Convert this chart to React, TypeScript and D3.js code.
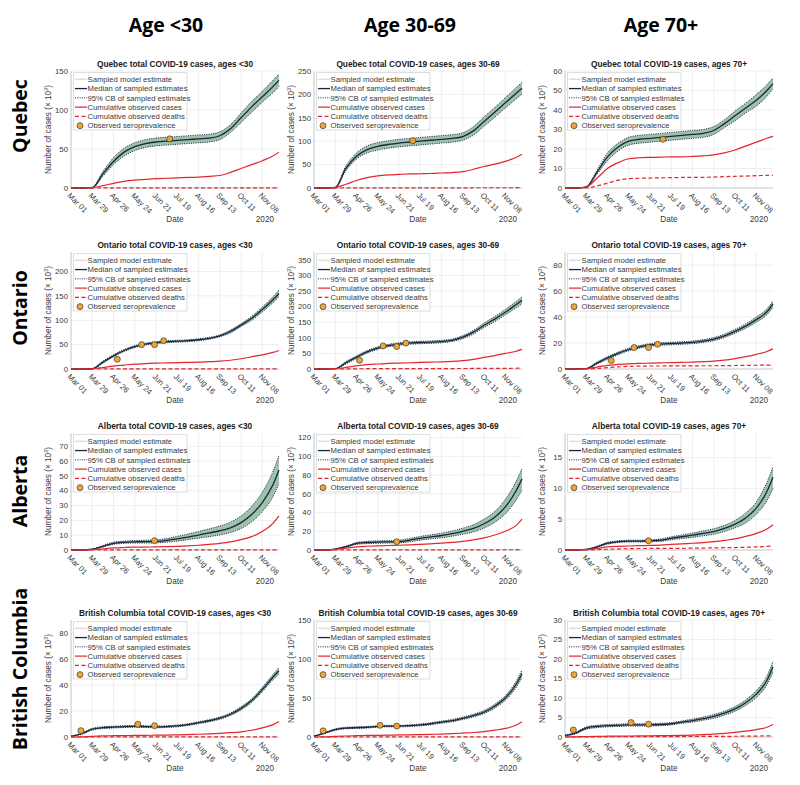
import React from 'react';
import * as d3 from 'd3';

// ---------- data ----------
const DAYS = [0, 14, 28, 42, 56, 70, 84, 98, 112, 126, 140, 154, 168, 182, 196, 210, 224, 238, 252, 266, 274];
const X_TICK_DAYS = [0, 28, 56, 84, 112, 140, 168, 196, 224, 252];
const X_TICK_LABELS = ['Mar 01', 'Mar 29', 'Apr 26', 'May 24', 'Jun 21', 'Jul 19', 'Aug 16', 'Sep 13', 'Oct 11', 'Nov 08'];
const PROVINCES = ['Quebec', 'Ontario', 'Alberta', 'British Columbia'];
const AGE_GROUPS = ['<30', '30-69', '70+'];
const AGE_HEADERS = ['Age <30', 'Age 30-69', 'Age 70+'];
const Y_MAX = [[150, 250, 60], [240, 375, 90], [79, 125, 19], [90, 150, 30]];
const Y_TICK_MAX = [[150, 250, 60], [200, 350, 80], [70, 120, 15], [80, 150, 30]];
const Y_TICK_STEP = [[50, 50, 10], [50, 50, 20], [10, 20, 5], [20, 50, 5]];
const LEGEND_LABELS = ['Sampled model estimate', 'Median of sampled estimates', '95% CB of sampled estimates', 'Cumulative observed cases', 'Cumulative observed deaths', 'Observed seroprevalence'];

// Quebec <30
const QC1_MED = [0, 0, 0.5, 18, 34, 46, 53, 57, 59, 60, 61, 62, 63, 64, 67, 76, 90, 104, 117, 130, 138];
const QC1_HI = [0, 0, 1, 21, 39, 51, 58, 62, 64, 65, 66, 67, 68, 69, 72, 81, 96, 111, 124, 138, 146];
const QC1_LO = [0, 0, 0, 15, 30, 41, 48, 52, 54, 55, 56, 57, 58, 59, 62, 71, 84, 97, 110, 122, 130];
const QC1_CASES = [0, 0, 0.5, 3, 6, 8.5, 10, 11, 12, 12.5, 13, 13.5, 14, 15, 16, 20, 25, 30, 35, 41, 46];
const QC1_DEATHS = [0, 0, 0, 0.05, 0.1, 0.1, 0.1, 0.1, 0.1, 0.1, 0.1, 0.1, 0.1, 0.1, 0.1, 0.1, 0.1, 0.1, 0.1, 0.1, 0.1];
const QC1_SERO = [[130, 63]];
// Quebec 30-69
const QC2_MED = [0, 0, 1, 42, 68, 82, 89, 93, 96, 98, 100, 102, 104, 106, 110, 122, 142, 162, 182, 202, 213];
const QC2_HI = [0, 0, 2, 47, 75, 90, 97, 101, 104, 106, 108, 110, 112, 114, 118, 131, 152, 172, 193, 214, 226];
const QC2_LO = [0, 0, 0, 37, 62, 75, 81, 85, 88, 90, 92, 94, 96, 98, 102, 113, 132, 151, 171, 190, 201];
const QC2_CASES = [0, 0, 1, 8, 16, 22, 26, 28, 29, 30, 30.5, 31, 32, 33, 35, 40, 46, 51, 57, 65, 72];
const QC2_DEATHS = [0, 0, 0, 0.1, 0.2, 0.3, 0.4, 0.4, 0.4, 0.4, 0.4, 0.4, 0.4, 0.4, 0.4, 0.5, 0.5, 0.5, 0.5, 0.6, 0.6];
const QC2_SERO = [[130, 101]];
// Quebec 70+
const QC3_MED = [0, 0, 0.5, 8, 16, 21, 24, 25, 25.5, 26, 26.5, 27, 27.5, 28, 29.5, 33, 37, 41, 45, 50, 53.5];
const QC3_HI = [0, 0, 0.8, 9, 18, 23, 26, 27, 27.5, 28, 28.5, 29, 29.5, 30, 31.5, 35, 39.5, 43.5, 48, 53, 56.5];
const QC3_LO = [0, 0, 0.3, 7, 14, 19, 22, 23, 23.5, 24, 24.5, 25, 25.5, 26, 27.5, 31, 34.5, 38.5, 42, 47, 51];
const QC3_CASES = [0, 0, 0.5, 5, 10, 13, 15, 15.5, 15.7, 15.8, 16, 16, 16.2, 16.5, 17, 18, 19.5, 21.5, 23.5, 25.5, 26.5];
const QC3_DEATHS = [0, 0, 0, 1, 2.5, 4, 4.8, 5, 5.1, 5.2, 5.3, 5.4, 5.5, 5.5, 5.6, 5.8, 6, 6.1, 6.3, 6.5, 6.6];
const QC3_SERO = [[129, 25]];
// Ontario <30
const ON1_MED = [0, 0, 0.5, 14, 27, 38, 46, 51, 54, 56, 57, 58, 60, 63, 68, 77, 90, 104, 122, 142, 155];
const ON1_HI = [0, 0, 1, 16, 29, 40, 48, 53, 56, 58, 59, 60, 62, 65, 70, 80, 93, 108, 127, 148, 162];
const ON1_LO = [0, 0, 0, 12, 25, 36, 44, 49, 52, 54, 55, 56, 58, 61, 66, 74, 87, 100, 117, 136, 148];
const ON1_CASES = [0, 0, 0.5, 3, 6, 8, 10, 11, 12, 12.5, 13, 13.5, 14, 15, 16, 18, 21, 25, 29, 34, 38];
const ON1_DEATHS = [0, 0, 0, 0.05, 0.1, 0.1, 0.1, 0.1, 0.1, 0.1, 0.1, 0.1, 0.1, 0.1, 0.1, 0.1, 0.1, 0.1, 0.1, 0.1, 0.1];
const ON1_SERO = [[61, 20], [93, 50], [110, 50], [122, 58]];
// Ontario 30-69
const ON2_MED = [0, 0, 1, 20, 38, 55, 67, 75, 80, 83, 85, 86, 88, 92, 102, 118, 140, 160, 182, 206, 220];
const ON2_HI = [0, 0, 2, 24, 42, 59, 71, 79, 84, 87, 89, 90, 92, 96, 107, 124, 147, 168, 191, 216, 231];
const ON2_LO = [0, 0, 0, 16, 34, 51, 63, 71, 76, 79, 81, 82, 84, 88, 97, 112, 133, 152, 173, 196, 209];
const ON2_CASES = [0, 0, 1, 5, 10, 14, 16, 18, 19, 20, 21, 22, 23, 24.5, 27, 31, 37, 43, 50, 57, 63];
const ON2_DEATHS = [0, 0, 0, 0.3, 0.7, 1, 1.2, 1.3, 1.4, 1.4, 1.5, 1.5, 1.5, 1.5, 1.6, 1.7, 1.8, 2, 2.2, 2.4, 2.6];
const ON2_SERO = [[60, 28], [91, 74], [109, 72], [121, 83]];
// Ontario 70+
const ON3_MED = [0, 0, 0.3, 4.5, 8.5, 12, 15, 17, 18.5, 19.2, 19.6, 20, 20.5, 21.5, 23, 25.5, 29, 33, 38, 44, 50];
const ON3_HI = [0, 0, 0.5, 5.3, 9.5, 13, 16, 18, 19.5, 20.2, 20.6, 21, 21.5, 22.6, 24.2, 26.8, 30.5, 34.7, 40, 46.3, 52.5];
const ON3_LO = [0, 0, 0.1, 3.7, 7.5, 11, 14, 16, 17.5, 18.2, 18.6, 19, 19.5, 20.4, 21.8, 24.2, 27.5, 31.3, 36, 41.7, 47.5];
const ON3_CASES = [0, 0, 0.2, 1.5, 2.8, 3.5, 4, 4.3, 4.5, 4.7, 4.9, 5.1, 5.3, 5.6, 6, 6.8, 8, 9.5, 11.3, 13.5, 15.5];
const ON3_DEATHS = [0, 0, 0, 0.4, 1, 1.6, 2, 2.2, 2.3, 2.3, 2.4, 2.4, 2.4, 2.5, 2.5, 2.6, 2.7, 2.8, 2.9, 3, 3.1];
const ON3_SERO = [[61, 6.5], [91, 16.5], [110, 16.5], [122, 19]];
// Alberta <30
const AB1_MED = [0, 0, 0.5, 2.5, 4.5, 5.2, 5.5, 5.6, 5.8, 6.5, 7.5, 8.7, 10, 11.5, 13, 15, 18.5, 24, 32, 44, 54];
const AB1_HI = [0, 0, 0.7, 3, 5.3, 6, 6.4, 6.6, 6.9, 7.8, 9.2, 10.8, 12.5, 14.3, 16.2, 18.8, 23, 29.5, 39, 53, 64];
const AB1_LO = [0, 0, 0.3, 2, 3.8, 4.5, 4.7, 4.7, 4.8, 5.3, 6, 7, 8, 9, 10.2, 11.8, 14.5, 19, 26, 36, 45];
const AB1_CASES = [0, 0, 0.2, 0.8, 1.4, 1.7, 1.9, 2, 2.1, 2.3, 2.5, 2.8, 3.2, 3.8, 4.5, 5.5, 7, 9, 12.5, 18, 23];
const AB1_DEATHS = [0, 0, 0, 0.02, 0.03, 0.03, 0.03, 0.03, 0.03, 0.03, 0.03, 0.03, 0.03, 0.03, 0.04, 0.04, 0.04, 0.05, 0.05, 0.06, 0.06];
const AB1_SERO = [[110, 6.3]];
// Alberta 30-69
const AB2_MED = [0, 0, 1, 3.5, 7, 8, 8.5, 8.7, 9, 10.5, 12.5, 14, 15.5, 17.5, 20, 23, 28, 35, 46, 63, 76];
const AB2_HI = [0, 0, 1.3, 4.2, 8, 9.3, 9.8, 10, 10.5, 12.3, 14.5, 16.3, 18, 20.3, 23.3, 27, 33, 41, 54, 73, 87];
const AB2_LO = [0, 0, 0.7, 2.8, 6, 6.8, 7.2, 7.4, 7.6, 8.8, 10.5, 11.8, 13, 14.8, 16.8, 19.3, 23.5, 29.5, 38.5, 53, 64];
const AB2_CASES = [0, 0, 0.5, 2, 3.3, 4, 4.5, 4.8, 5.1, 5.5, 6, 6.6, 7.3, 8.2, 9.3, 10.8, 13, 16, 20, 26, 33];
const AB2_DEATHS = [0, 0, 0, 0.05, 0.1, 0.12, 0.14, 0.15, 0.15, 0.15, 0.16, 0.16, 0.17, 0.17, 0.18, 0.19, 0.2, 0.22, 0.25, 0.3, 0.35];
const AB2_SERO = [[109, 8.9]];
// Alberta 70+
const AB3_MED = [0, 0, 0.1, 0.5, 1.1, 1.35, 1.45, 1.45, 1.5, 1.6, 1.9, 2.15, 2.4, 2.7, 3, 3.5, 4.2, 5.2, 6.8, 9.5, 11.8];
const AB3_HI = [0, 0, 0.15, 0.6, 1.25, 1.5, 1.6, 1.6, 1.65, 1.8, 2.15, 2.45, 2.75, 3.1, 3.45, 4, 4.8, 6, 7.8, 11, 13.5];
const AB3_LO = [0, 0, 0.05, 0.4, 0.95, 1.2, 1.3, 1.3, 1.35, 1.4, 1.65, 1.85, 2.05, 2.3, 2.55, 3, 3.6, 4.4, 5.8, 8, 10];
const AB3_CASES = [0, 0, 0.05, 0.25, 0.5, 0.6, 0.65, 0.7, 0.75, 0.8, 0.9, 1, 1.1, 1.2, 1.35, 1.55, 1.8, 2.2, 2.7, 3.4, 4.1];
const AB3_DEATHS = [0, 0, 0, 0.05, 0.12, 0.18, 0.22, 0.24, 0.25, 0.26, 0.27, 0.28, 0.3, 0.32, 0.34, 0.37, 0.4, 0.45, 0.5, 0.58, 0.65];
const AB3_SERO = [[110, 1.5]];
// British Columbia <30
const BC1_MED = [0.5, 2.5, 6, 7.2, 7.6, 8, 8.2, 8, 7.8, 8, 8.5, 9.5, 11, 12.5, 14.5, 17.5, 22, 28, 36.5, 46, 51];
const BC1_HI = [0.7, 3, 6.7, 7.9, 8.3, 8.7, 8.9, 8.7, 8.5, 8.7, 9.2, 10.2, 11.8, 13.3, 15.4, 18.5, 23.2, 29.4, 38.2, 48, 53.5];
const BC1_LO = [0.3, 2, 5.3, 6.5, 6.9, 7.3, 7.5, 7.3, 7.1, 7.3, 7.8, 8.8, 10.2, 11.7, 13.6, 16.5, 20.8, 26.6, 34.8, 44, 48.5];
const BC1_CASES = [0, 0.1, 0.5, 0.8, 1, 1.1, 1.2, 1.3, 1.4, 1.5, 1.7, 1.9, 2.1, 2.4, 2.8, 3.3, 4, 5.2, 7, 9.5, 12];
const BC1_DEATHS = [0, 0, 0, 0.02, 0.03, 0.03, 0.03, 0.03, 0.03, 0.03, 0.03, 0.03, 0.03, 0.03, 0.03, 0.03, 0.03, 0.03, 0.03, 0.03, 0.03];
const BC1_SERO = [[13, 4.9], [88, 9.8], [110, 8.7]];
// British Columbia 30-69
const BC2_MED = [1, 5, 9.5, 11.5, 12, 12.5, 13.5, 14, 14, 14.5, 15.5, 17, 19, 21, 24, 27.5, 32, 39.5, 50, 67, 81];
const BC2_HI = [1.3, 5.8, 10.5, 12.5, 13, 13.5, 14.5, 15, 15, 15.6, 16.7, 18.3, 20.4, 22.5, 25.6, 29.3, 34, 42, 53, 71, 86];
const BC2_LO = [0.7, 4.2, 8.5, 10.5, 11, 11.5, 12.5, 13, 13, 13.4, 14.3, 15.7, 17.6, 19.5, 22.4, 25.7, 30, 37, 47, 63, 76];
const BC2_CASES = [0, 0.2, 0.8, 1.3, 1.7, 2, 2.2, 2.4, 2.6, 2.8, 3.1, 3.4, 3.8, 4.3, 5, 5.8, 7, 8.7, 11, 15, 19.5];
const BC2_DEATHS = [0, 0, 0, 0.05, 0.08, 0.1, 0.1, 0.1, 0.1, 0.1, 0.1, 0.1, 0.1, 0.11, 0.11, 0.12, 0.12, 0.13, 0.14, 0.15, 0.16];
const BC2_SERO = [[12, 7.9], [87, 15], [109, 14]];
// British Columbia 70+
const BC3_MED = [0.4, 1, 2.3, 2.7, 2.9, 3, 3.1, 3.1, 3.1, 3.2, 3.4, 3.8, 4.2, 4.7, 5.3, 6.1, 7.2, 8.8, 11, 14.5, 18];
const BC3_HI = [0.5, 1.2, 2.6, 3, 3.2, 3.3, 3.4, 3.4, 3.4, 3.5, 3.7, 4.1, 4.6, 5.1, 5.8, 6.6, 7.8, 9.5, 11.9, 15.6, 19.4];
const BC3_LO = [0.3, 0.8, 2, 2.4, 2.6, 2.7, 2.8, 2.8, 2.8, 2.9, 3.1, 3.5, 3.8, 4.3, 4.8, 5.6, 6.6, 8.1, 10.1, 13.4, 16.6];
const BC3_CASES = [0, 0.05, 0.1, 0.15, 0.2, 0.22, 0.25, 0.28, 0.3, 0.33, 0.37, 0.42, 0.5, 0.6, 0.75, 0.95, 1.2, 1.5, 1.9, 2.5, 3.2];
const BC3_DEATHS = [0, 0, 0.01, 0.03, 0.05, 0.07, 0.08, 0.09, 0.1, 0.1, 0.11, 0.12, 0.13, 0.14, 0.15, 0.17, 0.19, 0.21, 0.24, 0.28, 0.32];
const BC3_SERO = [[11.5, 1.8], [87, 3.7], [110, 3.3]];

const PANEL_SERIES = [
  [[QC1_MED, QC1_HI, QC1_LO, QC1_CASES, QC1_DEATHS, QC1_SERO], [QC2_MED, QC2_HI, QC2_LO, QC2_CASES, QC2_DEATHS, QC2_SERO], [QC3_MED, QC3_HI, QC3_LO, QC3_CASES, QC3_DEATHS, QC3_SERO]],
  [[ON1_MED, ON1_HI, ON1_LO, ON1_CASES, ON1_DEATHS, ON1_SERO], [ON2_MED, ON2_HI, ON2_LO, ON2_CASES, ON2_DEATHS, ON2_SERO], [ON3_MED, ON3_HI, ON3_LO, ON3_CASES, ON3_DEATHS, ON3_SERO]],
  [[AB1_MED, AB1_HI, AB1_LO, AB1_CASES, AB1_DEATHS, AB1_SERO], [AB2_MED, AB2_HI, AB2_LO, AB2_CASES, AB2_DEATHS, AB2_SERO], [AB3_MED, AB3_HI, AB3_LO, AB3_CASES, AB3_DEATHS, AB3_SERO]],
  [[BC1_MED, BC1_HI, BC1_LO, BC1_CASES, BC1_DEATHS, BC1_SERO], [BC2_MED, BC2_HI, BC2_LO, BC2_CASES, BC2_DEATHS, BC2_SERO], [BC3_MED, BC3_HI, BC3_LO, BC3_CASES, BC3_DEATHS, BC3_SERO]],
];

// ---------- layout ----------
const W = 800, H = 785;
const COL_X = [71, 314, 565];
const PLOT_W = 208;
const ROW_Y = [71, 252, 433, 620];
const PLOT_H = 117;
const ROW_LABEL_Y = [116, 308, 491, 669];
const COL_LABEL_X = [166, 410, 661];

const BAND = '#9dc1aa';
const NAVY = '#1b2540';
const RED = '#e3262b';
const ORANGE = '#f2a431';
const GRID = '#ebebeb';
const TXT = '#3a3a3a';
const FONT = 'Liberation Sans, Arial, sans-serif';

const dayDate = (d: number) => new Date(2020, 2, 1 + d);

function Panel({ r, c }: { r: number; c: number }) {
  const x0 = COL_X[c], y0 = ROW_Y[r];
  const [med, hi, lo, cases, deaths, sero] = PANEL_SERIES[r][c] as any;
  const x = d3.scaleTime().domain([dayDate(0), dayDate(274)]).range([x0, x0 + PLOT_W]);
  const y = d3.scaleLinear().domain([0, Y_MAX[r][c]]).range([y0 + PLOT_H, y0]);
  const yTicks = d3.range(0, Y_TICK_MAX[r][c] + 1e-9, Y_TICK_STEP[r][c]);
  const line = (arr: number[]) =>
    d3.line<number>().x((_, i) => x(dayDate(DAYS[i]))).y((v) => y(v)).curve(d3.curveMonotoneX)(arr) as string;
  const area = d3
    .area<number>()
    .x((_, i) => x(dayDate(DAYS[i])))
    .y0((_, i) => y(lo[i]))
    .y1((_, i) => y(hi[i]))
    .curve(d3.curveMonotoneX)(med) as string;
  const yb = y0 + PLOT_H;
  const title = `${PROVINCES[r]} total COVID-19 cases, ages ${AGE_GROUPS[c]}`;
  const lx = x0 + 2.5, ly = y0 + 1.7;
  return (
    <g>
      {X_TICK_DAYS.map((d) => (
        <line key={'gx' + d} x1={x(dayDate(d))} x2={x(dayDate(d))} y1={y0} y2={yb} stroke={GRID} strokeWidth={0.8} />
      ))}
      {yTicks.map((t) => (
        <line key={'gy' + t} x1={x0} x2={x0 + PLOT_W} y1={y(t)} y2={y(t)} stroke={GRID} strokeWidth={0.8} />
      ))}
      <line x1={x0} x2={x0} y1={y0} y2={yb} stroke="#c4c4c4" strokeWidth={0.8} />
      <line x1={x0} x2={x0 + PLOT_W} y1={yb} y2={yb} stroke="#c4c4c4" strokeWidth={0.8} />
      <path d={area} fill={BAND} stroke="none" />
      <path d={line(hi)} fill="none" stroke={NAVY} strokeWidth={1} strokeDasharray="1,1.3" />
      <path d={line(lo)} fill="none" stroke={NAVY} strokeWidth={1} strokeDasharray="1,1.3" />
      <path d={line(med)} fill="none" stroke={NAVY} strokeWidth={1.3} />
      <path d={line(cases)} fill="none" stroke={RED} strokeWidth={1.2} />
      <path d={line(deaths)} fill="none" stroke={RED} strokeWidth={1.2} strokeDasharray="4,2.5" />
      {sero.map((p: number[], i: number) => (
        <circle key={'s' + i} cx={x(dayDate(p[0]))} cy={y(p[1])} r={3} fill={ORANGE} stroke="#3a3a3a" strokeWidth={0.7} />
      ))}
      {yTicks.map((t) => (
        <text key={'yt' + t} x={x0 - 3} y={y(t)} dy="0.35em" textAnchor="end" fontSize={7.8} fill={TXT} fontFamily={FONT}>
          {t}
        </text>
      ))}
      {X_TICK_DAYS.map((d, i) => (
        <text
          key={'xt' + d}
          transform={`translate(${x(dayDate(d)) - 1},${yb + 5}) rotate(45)`}
          dy="0.55em"
          fontSize={7.8}
          fill={TXT}
          fontFamily={FONT}
        >
          {X_TICK_LABELS[i]}
        </text>
      ))}
      <text x={x0 + PLOT_W / 2} y={yb + 34} textAnchor="middle" fontSize={8.2} fill={TXT} fontFamily={FONT}>
        Date
      </text>
      <text x={x0 + PLOT_W - 5} y={yb + 34} textAnchor="end" fontSize={8.2} fill={TXT} fontFamily={FONT}>
        2020
      </text>
      <text
        transform={`translate(${x0 - 20},${y0 + PLOT_H / 2}) rotate(-90)`}
        textAnchor="middle"
        fontSize={8.2}
        fill={TXT}
        fontFamily={FONT}
      >
        Number of cases (× 10
        <tspan fontSize={5.6} dy={-3}>3</tspan>
        <tspan dy={3}>)</tspan>
      </text>
      <text x={x0 + PLOT_W / 2} y={y0 - 4} textAnchor="middle" fontSize={8.3} fontWeight="bold" fill="#1a1a1a" fontFamily={FONT}>
        {title}
      </text>
      <rect x={lx} y={ly} width={113.5} height={57.3} fill="#fff" stroke="#cfcfcf" strokeWidth={0.7} />
      {LEGEND_LABELS.map((lab, i) => {
        const cy = y0 + 8.3 + i * 9.27;
        const l1 = lx + 1.5, l2 = lx + 13.5;
        let sym: any = null;
        if (i === 0) sym = <line x1={l1} x2={l2} y1={cy} y2={cy} stroke="#dedede" strokeWidth={1.5} />;
        if (i === 1) sym = <line x1={l1} x2={l2} y1={cy} y2={cy} stroke={NAVY} strokeWidth={1.3} />;
        if (i === 2) sym = <line x1={l1} x2={l2} y1={cy} y2={cy} stroke={NAVY} strokeWidth={1} strokeDasharray="1,1.3" />;
        if (i === 3) sym = <line x1={l1} x2={l2} y1={cy} y2={cy} stroke={RED} strokeWidth={1.2} />;
        if (i === 4) sym = <line x1={l1} x2={l2} y1={cy} y2={cy} stroke={RED} strokeWidth={1.2} strokeDasharray="4,2.5" />;
        if (i === 5) sym = <circle cx={(l1 + l2) / 2 - 1} cy={cy} r={3} fill={ORANGE} stroke="#3a3a3a" strokeWidth={0.7} />;
        return (
          <g key={'lg' + i}>
            {sym}
            <text x={lx + 14} y={cy} dy="0.35em" fontSize={7.7} fill={TXT} fontFamily={FONT}>
              {lab}
            </text>
          </g>
        );
      })}
    </g>
  );
}

export default function App() {
  return (
    <svg width={W} height={H} viewBox={`0 0 ${W} ${H}`} style={{ position: 'absolute', left: 0, top: 0, background: '#fff' }}>
      <rect width={W} height={H} fill="#fff" />
      {AGE_HEADERS.map((h, c) => (
        <text key={h} x={COL_LABEL_X[c]} y={32} textAnchor="middle" fontSize={19.5} fontWeight="bold" fill="#000" fontFamily="Open Sans, sans-serif">
          {h}
        </text>
      ))}
      {PROVINCES.map((p, r) => (
        <text
          key={p}
          transform={`translate(27,${ROW_LABEL_Y[r]}) rotate(-90)`}
          textAnchor="middle"
          fontSize={19.5}
          fontWeight="bold"
          fill="#000"
          fontFamily="Open Sans, sans-serif"
        >
          {p}
        </text>
      ))}
      {PROVINCES.map((_, r) => AGE_GROUPS.map((__, c) => <Panel key={r + '-' + c} r={r} c={c} />))}
    </svg>
  );
}
